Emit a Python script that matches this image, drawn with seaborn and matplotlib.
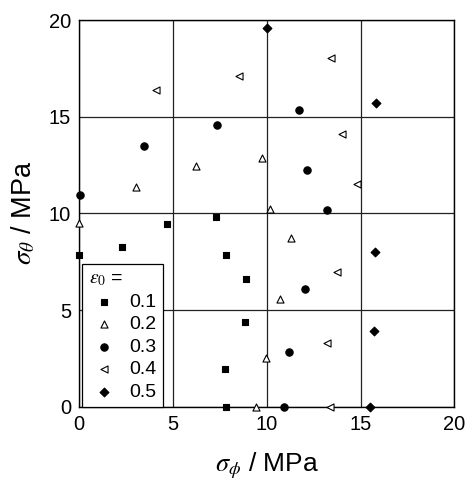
import pandas as pd
import matplotlib
matplotlib.use('Agg')
import matplotlib.pyplot as plt
import seaborn as sns

# strain levels and the (sigma_phi, sigma_theta) points
eps_labels = ['0.1', '0.2', '0.3', '0.4', '0.5']

x_01 = [0.0, 2.29, 4.66, 7.27, 7.81, 8.87, 8.84, 7.75, 7.82]
y_01 = [7.85, 8.28, 9.45, 9.80, 7.85, 6.61, 4.40, 1.93, 0.0]

x_02 = [0.0, 3.01, 6.22, 9.73, 10.17, 11.29, 10.70, 9.96, 9.42]
y_02 = [9.52, 11.37, 12.47, 12.85, 10.23, 8.74, 5.57, 2.54, 0.0]

x_03 = [0.04, 3.43, 7.33, 11.70, 12.14, 13.19, 12.02, 11.18, 10.92]
y_03 = [10.95, 13.50, 14.57, 15.33, 12.25, 10.18, 6.10, 2.81, 0.0]

x_04 = [4.09, 8.53, 13.42, 14.01, 14.79, 13.74, 13.21, 13.37]
y_04 = [16.37, 17.09, 18.02, 14.11, 11.54, 6.95, 3.31, 0.0]

x_05 = [10.0, 15.82, 15.77, 15.72, 15.50]
y_05 = [19.57, 15.71, 8.00, 3.93, 0.0]

xs = [x_01, x_02, x_03, x_04, x_05]
ys = [y_01, y_02, y_03, y_04, y_05]
markers = ['s', '^', 'o', '<', 'D']
fills = ['black', 'white', 'black', 'white', 'black']
sizes = [20, 26, 28, 26, 20]

sns.set_style('white')
plt.rcParams['font.family'] = ['Liberation Sans', 'DejaVu Sans']
plt.rcParams['mathtext.fontset'] = 'stix'
plt.rcParams['text.color'] = 'black'
plt.rcParams['axes.labelcolor'] = 'black'

fig = plt.figure(figsize=(4.70, 4.86), dpi=100)
ax = fig.add_axes([0.1687, 0.1632, 0.7979, 0.7956])

for lab, xv, yv, m, fc, s in zip(eps_labels, xs, ys, markers, fills, sizes):
    df = pd.DataFrame({'x': xv, 'y': yv})
    sns.scatterplot(data=df, x='x', y='y', marker=m, color=fc, edgecolor='black',
                    linewidth=0.8, s=s, label=lab, clip_on=False, zorder=3, ax=ax)

ax.set_xlim(0, 20)
ax.set_ylim(0, 20)
ax.set_xticks([0, 5, 10, 15, 20])
ax.set_yticks([0, 5, 10, 15, 20])
ax.grid(True, color='#222222', linewidth=0.9)
ax.set_axisbelow(True)
for sp in ax.spines.values():
    sp.set_color('black')
    sp.set_linewidth(1.0)
ax.tick_params(length=0, labelsize=14.5, colors='black', labelcolor='black')
ax.tick_params(axis='x', pad=6)
ax.tick_params(axis='y', pad=6)

ax.set_xlabel(r'$\sigma_\phi$ / MPa', fontsize=19, labelpad=12, color='black')
ax.set_ylabel(r'$\sigma_\theta$ / MPa', fontsize=19.5, labelpad=8, color='black')

leg = ax.legend(title=r'$\varepsilon_0$ =', loc='lower left', bbox_to_anchor=(0.008, -0.002),
                fontsize=14, title_fontsize=14, frameon=True, fancybox=False,
                edgecolor='black', framealpha=1, alignment='left',
                handlelength=1.5, handletextpad=0.55, labelspacing=0.25,
                borderpad=0.35, borderaxespad=0.0, markerscale=1.0, labelcolor='black')
leg.get_frame().set_linewidth(0.9)
leg.get_title().set_color('black')

fig.savefig('out.png', dpi=100)
